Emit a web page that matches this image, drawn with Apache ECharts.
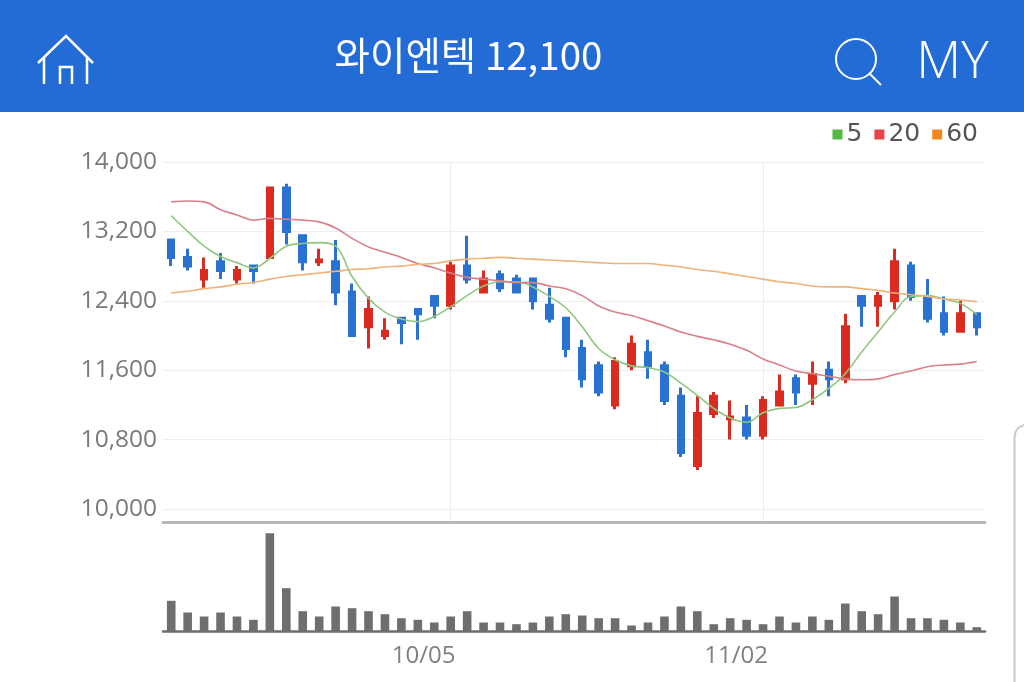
<!DOCTYPE html>
<html>
<head>
<meta charset="utf-8">
<title>와이엔텍 12,100</title>
<style>
  html, body { margin: 0; padding: 0; background: #fff; }
  #chart { width: 1024px; height: 682px; }
</style>
</head>
<body>
<div id="chart"></div>
<script src="https://cdn.jsdelivr.net/npm/echarts@6/dist/echarts.min.js"></script>
<script>
// 날짜 (거래일)
const dates = [
  "09/08", "09/09", "09/10", "09/11", "09/14", "09/15", "09/16", "09/17", "09/18", "09/21",
  "09/22", "09/23", "09/24", "09/25", "09/30", "10/01", "10/02", "10/05", "10/06", "10/07",
  "10/08", "10/12", "10/13", "10/14", "10/15", "10/16", "10/19", "10/20", "10/21", "10/22",
  "10/23", "10/26", "10/27", "10/28", "10/29", "10/30", "11/02", "11/03", "11/04", "11/05",
  "11/06", "11/09", "11/10", "11/11", "11/12", "11/13", "11/16", "11/17", "11/18", "11/19",
];
const labelDates = ["10/05", "11/02"];
const priceTicks = [10000, 10800, 11600, 12400, 13200, 14000];

// 시가, 종가, 저가, 고가
const opens = [
  13100, 12900, 12650, 12850, 12650, 12800, 12900, 13700, 13150, 12850,
  12850, 12500, 12100, 12000, 12200, 12300, 12450, 12350, 12800, 12500,
  12700, 12650, 12650, 12350, 12200, 11850, 11650, 11200, 11650, 11800,
  11650, 11300, 10500, 11100, 11040, 11050, 10850, 11200, 11500, 11450,
  11600, 11500, 12450, 12350, 12400, 12800, 12450, 12250, 12050, 12250,
];
const closes = [
  12900, 12800, 12750, 12750, 12750, 12750, 13700, 13200, 12850, 12870,
  12500, 12000, 12300, 12050, 12150, 12250, 12350, 12800, 12650, 12650,
  12550, 12500, 12400, 12200, 11850, 11500, 11350, 11700, 11900, 11650,
  11250, 10650, 11100, 11300, 11060, 10850, 11250, 11350, 11350, 11550,
  11500, 12100, 12350, 12450, 12850, 12450, 12200, 12050, 12250, 12100,
];
const lows = [
  12800, 12750, 12550, 12650, 12600, 12600, 12900, 13050, 12750, 12800,
  12350, 12000, 11850, 11950, 11900, 11950, 12200, 12300, 12600, 12500,
  12500, 12500, 12300, 12150, 11750, 11400, 11300, 11150, 11600, 11500,
  11200, 10600, 10450, 11050, 10800, 10800, 10800, 11200, 11200, 11200,
  11300, 11450, 12100, 12100, 12300, 12400, 12150, 12000, 12050, 12000,
];
const highs = [
  13100, 13000, 12900, 12950, 12800, 12800, 13700, 13750, 13150, 13000,
  13100, 12600, 12450, 12200, 12200, 12300, 12450, 12850, 13150, 12750,
  12750, 12700, 12650, 12550, 12200, 11950, 11700, 11750, 12000, 11950,
  11700, 11400, 11300, 11350, 11250, 11200, 11300, 11550, 11550, 11700,
  11700, 12250, 12450, 12500, 13000, 12850, 12650, 12450, 12400, 12250,
];

// 이동평균선
const ma5 = [
  13380, 13200, 13030, 12910, 12840, 12780, 12890, 13030, 13060, 13070,
  13030, 12680, 12430, 12270, 12190, 12160, 12220, 12330, 12460, 12570,
  12620, 12620, 12560, 12450, 12320, 12100, 11850, 11720, 11650, 11630,
  11580, 11450, 11310, 11160, 11050, 11000, 11110, 11160, 11170, 11260,
  11390, 11560, 11810, 12040, 12270, 12450, 12460, 12420, 12370, 12240,
];
const ma20 = [
  13540, 13550, 13540, 13450, 13390, 13330, 13350, 13340, 13330, 13310,
  13240, 13120, 13020, 12960, 12900, 12830, 12780, 12720, 12670, 12650,
  12630, 12610, 12610, 12570, 12540, 12460, 12340, 12270, 12230, 12170,
  12110, 12040, 11990, 11950, 11900, 11830, 11730, 11660, 11590, 11560,
  11530, 11500, 11490, 11500, 11550, 11590, 11640, 11660, 11670, 11700,
];
const ma60 = [
  12490, 12510, 12540, 12560, 12590, 12610, 12650, 12680, 12700, 12720,
  12740, 12760, 12770, 12790, 12800, 12820, 12830, 12860, 12880, 12890,
  12900, 12890, 12880, 12870, 12860, 12850, 12840, 12830, 12830, 12830,
  12810, 12790, 12760, 12740, 12710, 12680, 12650, 12620, 12600, 12570,
  12560, 12560, 12540, 12520, 12490, 12470, 12450, 12420, 12410, 12390,
];

// 거래량
const volumes = [
  30700, 19000, 15000, 19000, 15000, 11700, 98300, 43300, 20300, 15000,
  25000, 23300, 20300, 17300, 13300, 11700, 9000, 15000, 20300, 9000,
  9000, 7300, 9000, 15000, 17300, 16000, 13300, 13300, 6000, 9000,
  15000, 25000, 20300, 7300, 13300, 11700, 7300, 15000, 9000, 15000,
  11700, 28000, 20300, 17300, 35000, 13300, 13300, 11700, 9000, 4300,
];

const candleData = dates.map(function (d, i) {
  return [opens[i], closes[i], lows[i], highs[i]];
});

// 날짜 라벨이 있는 칸만 표시
function isLabelDate(index, value) {
  return labelDates.indexOf(value) !== -1;
}

const myChart = echarts.init(document.getElementById("chart"));

const option = {
  animation: false,
  backgroundColor: "#fff",
  textStyle: { fontFamily: "Open Sans" },
  legend: {
    data: ["5", "20", "60"],
    top: 117,
    right: 41,
    icon: "rect",
    itemWidth: 10,
    itemHeight: 10,
    itemGap: 12,
    textStyle: {
      color: "#555",
      fontSize: 25,
      fontFamily: "DejaVu Sans",
      padding: [0, 0, 0, -1],
    },
  },
  grid: [
    { left: 163, right: 39, top: 162, height: 360 },
    { left: 163, right: 39, top: 522, height: 109.5 },
  ],
  xAxis: [
    {
      type: "category",
      gridIndex: 0,
      data: dates,
      axisLabel: { show: false },
      axisTick: { show: false },
      axisLine: { lineStyle: { color: "#b8b8b8", width: 3 } },
      splitLine: {
        show: true,
        alignWithLabel: true,
        interval: isLabelDate,
        lineStyle: { color: "#ececec", width: 1 },
      },
    },
    {
      type: "category",
      gridIndex: 1,
      data: dates,
      axisLine: { lineStyle: { color: "#6e6e6e", width: 2.5 } },
      axisTick: {
        alignWithLabel: true,
        interval: isLabelDate,
        length: 8,
        lineStyle: { color: "#aaa" },
      },
      axisLabel: {
        interval: isLabelDate,
        color: "#808080",
        fontSize: 24,
        margin: 13,
        padding: [0, 54, 0, 0],
      },
      splitLine: { show: false },
    },
  ],
  yAxis: [
    {
      type: "value",
      gridIndex: 0,
      min: 9850,
      max: 14000,
      axisLine: { show: false },
      axisTick: { show: false, customValues: priceTicks },
      axisLabel: {
        customValues: priceTicks,
        color: "#7a7a7a",
        fontSize: 24.5,
        margin: 6,
        padding: [2, 0, 0, 0],
        formatter: function (v) {
          return v.toLocaleString("en-US");
        },
      },
      splitLine: { lineStyle: { color: "#eeeeee", width: 1 } },
    },
    {
      type: "value",
      gridIndex: 1,
      min: 0,
      max: 109500,
      show: false,
    },
  ],
  series: [
    {
      name: "가격",
      type: "candlestick",
      xAxisIndex: 0,
      yAxisIndex: 0,
      barWidth: 6,
      data: candleData,
      itemStyle: {
        color: "#d92b20",
        color0: "#2a72d2",
        borderColor: "#d92b20",
        borderColor0: "#2a72d2",
        borderWidth: 3,
      },
    },
    {
      name: "5",
      type: "line",
      xAxisIndex: 0,
      yAxisIndex: 0,
      data: ma5,
      smooth: 0.4,
      symbol: "none",
      itemStyle: { color: "#55b83f" },
      lineStyle: { color: "#8fc77f", width: 1.6 },
    },
    {
      name: "20",
      type: "line",
      xAxisIndex: 0,
      yAxisIndex: 0,
      data: ma20,
      smooth: 0.4,
      symbol: "none",
      itemStyle: { color: "#e8434b" },
      lineStyle: { color: "#d9808a", width: 1.6 },
    },
    {
      name: "60",
      type: "line",
      xAxisIndex: 0,
      yAxisIndex: 0,
      data: ma60,
      smooth: 0.4,
      symbol: "none",
      itemStyle: { color: "#f0881e" },
      lineStyle: { color: "#efb27a", width: 1.6 },
    },
    {
      name: "거래량",
      type: "bar",
      xAxisIndex: 1,
      yAxisIndex: 1,
      barWidth: 8.6,
      data: volumes,
      itemStyle: { color: "#6e6e6e" },
    },
  ],
  // 상단 헤더와 아이콘
  graphic: [
    {
      type: "rect",
      shape: { x: 0, y: 0, width: 1024, height: 112 },
      style: { fill: "#236cd6" },
    },
    {
      type: "text",
      x: 468.5,
      y: 55,
      style: {
        text: "와이엔텍 12,100",
        fill: "#fff",
        font: '400 38.5px "Noto Sans CJK KR"',
        align: "center",
        verticalAlign: "middle",
      },
    },
    {
      type: "polyline",
      shape: { points: [[38, 63], [66, 36], [93, 63]] },
      style: { stroke: "#fff", lineWidth: 2.5, fill: null },
    },
    {
      type: "polyline",
      shape: { points: [[44, 58], [44, 84]] },
      style: { stroke: "#fff", lineWidth: 2.5, fill: null },
    },
    {
      type: "polyline",
      shape: { points: [[87, 58], [87, 84]] },
      style: { stroke: "#fff", lineWidth: 2.5, fill: null },
    },
    {
      type: "polyline",
      shape: { points: [[60, 84], [60, 67], [72, 67], [72, 84]] },
      style: { stroke: "#fff", lineWidth: 2.5, fill: null },
    },
    {
      type: "circle",
      shape: { cx: 856, cy: 59, r: 20 },
      style: { stroke: "#fff", lineWidth: 2, fill: null },
    },
    {
      type: "line",
      shape: { x1: 869, y1: 73, x2: 881, y2: 85 },
      style: { stroke: "#fff", lineWidth: 2 },
    },
    {
      type: "text",
      x: 952.5,
      y: 63,
      style: {
        text: "MY",
        fill: "#fff",
        font: '300 52px "Open Sans"',
        align: "center",
        verticalAlign: "middle",
      },
    },
    // 오른쪽 아래 패널 테두리
    {
      type: "polyline",
      shape: {
        points: [[1014.5, 682], [1014.5, 438], [1015.5, 432], [1018, 428], [1024, 425]],
      },
      style: { stroke: "#c9c9c9", lineWidth: 2, fill: null },
    },
  ],
};

myChart.setOption(option);

window.addEventListener("resize", function () {
  myChart.resize();
});
</script>
</body>
</html>
